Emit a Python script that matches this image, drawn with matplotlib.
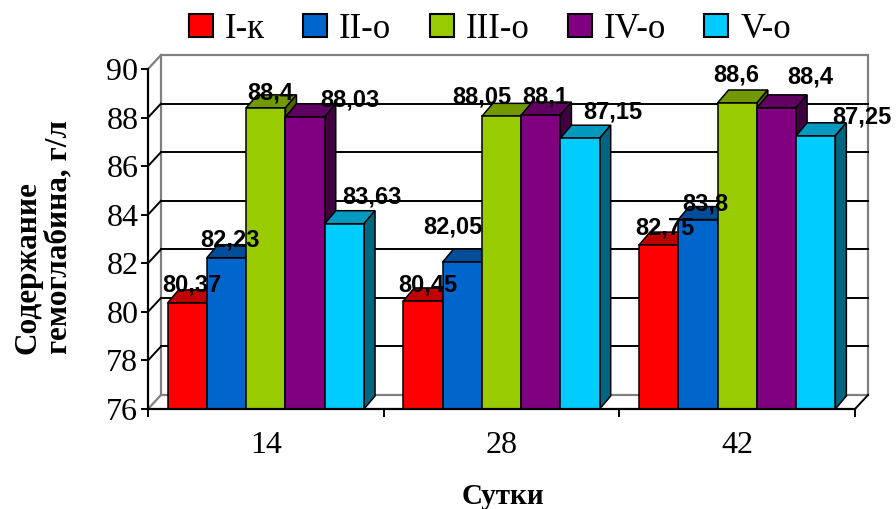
import matplotlib
matplotlib.use("Agg")
import matplotlib.pyplot as plt
from matplotlib.patches import Polygon, Patch
from matplotlib.lines import Line2D

# ---- data ----
categories = ["14", "28", "42"]
series_names = ["I-к", "II-о", "III-о", "IV-о", "V-о"]
s1 = [80.37, 80.45, 82.75]
s2 = [82.23, 82.05, 83.8]
s3 = [88.4, 88.05, 88.6]
s4 = [88.03, 88.1, 88.4]
s5 = [83.63, 87.15, 87.25]
series_values = [s1, s2, s3, s4, s5]
y_ticks = [76, 78, 80, 82, 84, 86, 88, 90]

# ---- styles ----
front_cols = ["#FF0000", "#0066CC", "#99CC00", "#800080", "#00CCFF"]
top_cols = ["#BF0000", "#004D99", "#739900", "#600060", "#0099BF"]
side_cols = ["#800000", "#003366", "#4D6600", "#400040", "#006680"]
# label offsets in pixels (right, up) per series per category
lab_dx = [[5, 5, 6], [3, -9, 7], [4, -20, -1], [45, 4, 34], [28, 33, 46]]
lab_dy = [[18, 16, 17], [18, 35, 16], [15, 19, 28], [17, 18, 31], [27, 26, 19]]

W, H = 896, 509
fig = plt.figure(figsize=(W / 100, H / 100), dpi=100)
L, R, B, T = 148, 855, 409, 69
ax = fig.add_axes([L / W, (H - B) / H, (R - L) / W, (B - T) / H])
ymin, ymax = y_ticks[0], y_ticks[-1]
ncat = len(categories)
ax.set_xlim(0, ncat)
ax.set_ylim(ymin, ymax)
ax.patch.set_visible(False)

pxx = ncat / (R - L)          # data units per pixel (x)
pxy = (ymax - ymin) / (B - T)  # data units per pixel (y)
wdx, wdy = 13 * pxx, 14 * pxy  # wall depth
bdx, bdy = 11 * pxx, 13 * pxy  # bar depth

gray = "#808080"
# back wall
ax.add_patch(Polygon([(wdx, ymin + wdy), (ncat + wdx, ymin + wdy),
                      (ncat + wdx, ymax + wdy), (wdx, ymax + wdy)],
                     closed=True, facecolor="white", edgecolor=gray,
                     linewidth=1.6, clip_on=False, zorder=0.5))
# gridlines on back wall + side wall diagonals
for t in y_ticks:
    if t not in (ymin, ymax):
        ax.add_line(Line2D([wdx, ncat + wdx], [t + wdy, t + wdy], color="black",
                           linewidth=1.4, clip_on=False, zorder=0.7))
        ax.add_line(Line2D([0, wdx], [t, t + wdy], color="black",
                           linewidth=1.4, clip_on=False, zorder=0.7))
    else:
        ax.add_line(Line2D([0, wdx], [t, t + wdy], color=gray,
                           linewidth=1.6, clip_on=False, zorder=0.7))
ax.add_line(Line2D([ncat, ncat + wdx], [ymin, ymin + wdy], color="black",
                   linewidth=1.4, clip_on=False, zorder=0.7))

# bars
bw = 1.0 / 6
nser = len(series_values)
for j, vals in enumerate(series_values):
    z = 2 + j
    xs = [i + 0.5 + (j - (nser - 1) / 2) * bw for i in range(ncat)]
    ax.bar(xs, [v - ymin for v in vals], width=bw, bottom=ymin,
           color=front_cols[j], edgecolor="black", linewidth=1.1, zorder=z + 0.2)
    for i, (xc, v) in enumerate(zip(xs, vals)):
        x0, x1 = xc - bw / 2, xc + bw / 2
        ax.add_patch(Polygon([(x0, v), (x0 + bdx, v + bdy), (x1 + bdx, v + bdy), (x1, v)],
                             closed=True, facecolor=top_cols[j], edgecolor="black",
                             linewidth=1.1, zorder=z, clip_on=False))
        ax.add_patch(Polygon([(x1, ymin), (x1 + bdx, ymin + bdy), (x1 + bdx, v + bdy), (x1, v)],
                             closed=True, facecolor=side_cols[j], edgecolor="black",
                             linewidth=1.1, zorder=z, clip_on=False))

# data labels
for j, vals in enumerate(series_values):
    for i, v in enumerate(vals):
        xc = i + 0.5 + (j - (nser - 1) / 2) * bw
        ax.annotate(f"{v:g}".replace(".", ","), (xc, v),
                    xytext=(lab_dx[j][i], lab_dy[j][i]), textcoords="offset pixels",
                    ha="center", va="center", fontsize=17, fontweight="bold",
                    family="Liberation Sans", color="black", zorder=20,
                    annotation_clip=False)

# axes styling
for s in ["top", "right"]:
    ax.spines[s].set_visible(False)
for s in ["left", "bottom"]:
    ax.spines[s].set_color("black")
    ax.spines[s].set_linewidth(1.6)
    ax.spines[s].set_zorder(30)
ax.set_yticks(y_ticks)
ax.set_yticklabels([str(t) for t in y_ticks], family="Liberation Serif", fontsize=23)
ax.tick_params(axis="y", direction="out", length=5, width=1.4, pad=2)
ax.set_xticks(range(ncat + 1))
ax.set_xticklabels([""] * (ncat + 1))
ax.set_xticks([i + 0.5 for i in range(ncat)], minor=True)
ax.set_xticklabels(categories, minor=True, family="Liberation Serif", fontsize=23)
ax.tick_params(axis="x", which="major", direction="out", length=6, width=1.4)
ax.tick_params(axis="x", which="minor", length=0, pad=16)

# legend
handles = [Patch(facecolor=c, edgecolor="black", linewidth=1.5) for c in front_cols]
fig.legend(handles, series_names, loc="center", bbox_to_anchor=(490 / W, 1 - 29 / H),
           ncol=5, frameon=False, prop={"family": "Liberation Serif", "size": 25},
           handlelength=0.69, handleheight=0.66, handletextpad=0.35,
           columnspacing=1.1, borderpad=0, borderaxespad=0)

# axis titles
fig.text(43.5 / W, 1 - 354 / H, "Содержание\nгемоглабина, г/л", rotation=90,
         ha="center", va="bottom", multialignment="left", fontweight="bold",
         family="Liberation Serif", fontsize=22.5, linespacing=1.05)
fig.text(503 / W, 1 - 496 / H, "Сутки", ha="center", va="center", fontweight="bold",
         family="Liberation Serif", fontsize=21)

fig.savefig("out.png", dpi=100)
